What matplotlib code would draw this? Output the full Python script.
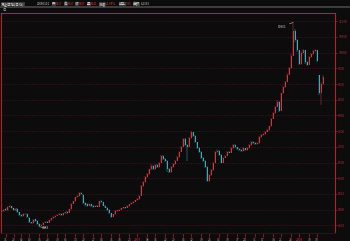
import numpy as np
import matplotlib
matplotlib.use('Agg')
from matplotlib import pyplot as plt
from matplotlib.patches import Rectangle

plt.rcParams['font.family'] = ['Noto Sans CJK SC', 'DejaVu Sans']

# дневные свечи
opens = [4930, 4950, 5010, 4990, 5080, 5110, 5040, 4990, 5020, 4910,
         4830, 4800, 4850, 4860, 4750, 4600, 4570, 4690, 4640, 4540,
         4490, 4520, 4580, 4620, 4590, 4660, 4720, 4770, 4810, 4840,
         4860, 4830, 4880, 4920, 4900, 5010, 5190, 5260, 5400, 5420,
         5540, 5480, 5200, 5170, 5130, 5170, 5110, 5090, 5130, 5100,
         5270, 5230, 5130, 5060, 4990, 4880, 4780, 4850, 4970, 4970,
         5000, 5040, 5080, 5060, 5120, 5170, 5200, 5250, 5300, 5330,
         5450, 5760, 5880, 6050, 6130, 6280, 6400, 6300, 6420, 6350,
         6500, 6700, 6620, 6550, 6300, 6200, 6350, 6450, 6560, 6670,
         6850, 7000, 7250, 7050, 7000, 7280, 7460, 7350, 7150, 6950,
         6850, 6650, 6550, 6350, 5900, 6100, 6250, 6500, 6850, 6880,
         6750, 6500, 6650, 6720, 6850, 6820, 6950, 7060, 6980, 6920,
         6900, 6870, 6950, 6900, 6960, 7050, 7160, 7120, 7080, 7110,
         7300, 7380, 7400, 7480, 7540, 7650, 7900, 8070, 8280, 8440,
         8150, 8700, 8900, 9080, 9300, 9500, 9900, 10700, 10400, 10080,
         9650, 10000, 10080, 9700, 9620, 9870, 9950, 10050, 10080, 9290,
         8720, 9000]
closes = [4960, 5000, 4980, 5090, 5120, 5040, 4990, 5030, 4920, 4830,
          4800, 4850, 4870, 4760, 4600, 4560, 4680, 4650, 4540, 4490,
          4520, 4580, 4610, 4590, 4660, 4720, 4770, 4800, 4840, 4860,
          4830, 4880, 4910, 4900, 5010, 5180, 5260, 5390, 5420, 5530,
          5500, 5200, 5160, 5130, 5170, 5110, 5090, 5120, 5100, 5260,
          5230, 5130, 5060, 5000, 4880, 4780, 4850, 4960, 4970, 5000,
          5040, 5070, 5060, 5120, 5170, 5200, 5250, 5300, 5330, 5450,
          5750, 5880, 6050, 6130, 6280, 6400, 6300, 6420, 6350, 6500,
          6700, 6620, 6560, 6300, 6200, 6350, 6450, 6560, 6670, 6850,
          7000, 7250, 7050, 7000, 7280, 7460, 7350, 7150, 6950, 6850,
          6650, 6550, 6350, 5900, 6100, 6250, 6500, 6850, 6880, 6750,
          6500, 6650, 6720, 6850, 6820, 6950, 7060, 6980, 6920, 6900,
          6870, 6950, 6900, 6960, 7050, 7160, 7120, 7080, 7110, 7300,
          7380, 7400, 7480, 7540, 7650, 7900, 8070, 8280, 8440, 8150,
          8700, 8900, 9080, 9300, 9500, 9900, 10700, 10400, 10080, 9650,
          10000, 10080, 9700, 9620, 9870, 9950, 10050, 10080, 9720, 8720,
          9000, 9230]
highs = [4990, 5030, 5040, 5110, 5150, 5130, 5060, 5060, 5040, 4930,
         4850, 4880, 4900, 4880, 4770, 4620, 4700, 4710, 4660, 4560,
         4550, 4600, 4640, 4650, 4680, 4740, 4790, 4830, 4860, 4890,
         4880, 4900, 4940, 4950, 5030, 5200, 5290, 5410, 5460, 5550,
         5560, 5500, 5230, 5200, 5200, 5190, 5140, 5150, 5160, 5290,
         5300, 5250, 5150, 5080, 5010, 4900, 4870, 4980, 5000, 5030,
         5060, 5100, 5100, 5140, 5190, 5230, 5270, 5320, 5360, 5480,
         5780, 5910, 6080, 6170, 6310, 6440, 6430, 6450, 6450, 6530,
         6730, 6740, 6650, 6570, 6330, 6380, 6480, 6590, 6700, 6880,
         7040, 7280, 7270, 7100, 7310, 7490, 7480, 7370, 7170, 6980,
         6870, 6680, 6570, 6380, 6130, 6280, 6530, 6880, 6920, 6900,
         6770, 6680, 6750, 6880, 6880, 6980, 7090, 7080, 7000, 6950,
         6930, 6980, 6970, 6990, 7080, 7190, 7190, 7150, 7140, 7330,
         7410, 7440, 7510, 7570, 7680, 7930, 8100, 8310, 8480, 8460,
         8730, 8940, 9110, 9340, 9540, 9950, 10961, 10760, 10430, 10100,
         10040, 10120, 10100, 9730, 9900, 9990, 10090, 10130, 10100, 9300,
         9050, 9290]
lows = [4910, 4940, 4960, 4970, 5060, 5020, 4960, 4970, 4900, 4800,
        4770, 4780, 4830, 4740, 4570, 4530, 4550, 4620, 4500, 4453,
        4470, 4500, 4560, 4570, 4570, 4640, 4700, 4750, 4790, 4820,
        4800, 4810, 4860, 4870, 4880, 4990, 5170, 5240, 5370, 5400,
        5460, 5180, 5130, 5100, 5110, 5080, 5060, 5070, 5080, 5080,
        5200, 5110, 5040, 4970, 4850, 4750, 4760, 4830, 4940, 4950,
        4980, 5020, 5030, 5040, 5100, 5150, 5180, 5230, 5280, 5310,
        5430, 5730, 5860, 6020, 6100, 6250, 6260, 6270, 6320, 6330,
        6480, 6590, 6530, 6200, 6160, 6180, 6320, 6430, 6540, 6650,
        6830, 6980, 7020, 6560, 6980, 7250, 7320, 7120, 6920, 6820,
        6620, 6520, 6320, 5870, 5880, 6080, 6230, 6480, 6820, 6720,
        6480, 6480, 6630, 6700, 6790, 6800, 6930, 6950, 6890, 6870,
        6840, 6850, 6870, 6880, 6940, 7030, 7090, 7050, 7060, 7090,
        7280, 7350, 7380, 7460, 7520, 7630, 7880, 8050, 8260, 8100,
        8130, 8680, 8880, 9060, 9280, 9480, 9880, 10350, 10030, 9600,
        9620, 9960, 9650, 9580, 9600, 9840, 9920, 10020, 9690, 8650,
        8330, 8970]

price_ticks = [4500, 5000, 5500, 6000, 6500, 7000, 7500, 8000, 8500,
               9000, 9500, 10000, 10500, 11000]
date_idx = [2, 6, 10, 14, 19, 23, 28, 32, 37, 41, 46, 50, 55, 59, 64, 68,
            73, 77, 82, 86, 91, 95, 100, 104, 109, 113, 118, 122, 127, 131,
            136, 140, 145, 149, 154, 158]
date_lbl = ['11', '29', '02', '09', '16', '23', '30', '06', '13', '20',
            '27', '04', '11', '18', '25', '2007', '08', '15', '22', '29',
            '05', '12', '19', '26', '03', '10', '17', '24', '31', '07',
            '14', '21', '28', '2008', '10', '18']
red_dates = ['2007', '2008']

header = [(1, '深证成指(日线)', '#d8d8d8', True),
          (37, '20080101', '#d8d8d8', False),
          (52, '开', '#c8c8c8', True), (56, '5127', '#e03434', False),
          (64, '高', '#c8c8c8', True), (68, '5627', '#e03434', False),
          (75, '收', '#c8c8c8', True), (79, '5587', '#e03434', False),
          (87, '量', '#c8c8c8', True), (91, '6941', '#e03434', False),
          (99, '涨幅', '#c8c8c8', True), (106, '+2.08%', '#e03434', False),
          (119, '换手', '#c8c8c8', True), (126, '0.35', '#e03434', False),
          (133, '金额', '#c8c8c8', True), (141, '6.2333', '#d8d8d8', False)]

BG = '#0c0c0c'
FRAME = '#b4202e'
UP = '#c83a40'
DOWN = '#3aaabc'

o = np.array(opens)
c = np.array(closes)
h = np.array(highs)
l = np.array(lows)
x = np.arange(len(c))
up = c >= o

fig = plt.figure(figsize=(3.5, 2.41), dpi=100)
fig.patch.set_facecolor(BG)

# шапка, координаты в пикселях
hd = fig.add_axes([0, 0, 1, 1])
hd.set_xlim(0, 350)
hd.set_ylim(241, 0)
hd.axis('off')
hd.add_patch(Rectangle((0, 0.6), 350, 0.8, color='#8a1020', lw=0))
hd.add_patch(Rectangle((0, 6.3), 350, 1.2, color='#3c3c3c', lw=0))
for px, txt, col, boxed in header:
    fs = 2.5 if any(ord(ch) > 255 for ch in txt) else 2.1
    bb = dict(facecolor='#3a3a3a', edgecolor='none', pad=0.1) if boxed else None
    hd.text(px, 4.0, txt, color=col, fontsize=fs, va='center', ha='left',
            bbox=bb)
hd.text(2, 10.3, '日', color='#b0b0b0', fontsize=2.4, va='center', ha='left')

ax = fig.add_axes([0.0015, 0.0332, 0.9556, 0.911])
ax.set_facecolor(BG)

for p in price_ticks:
    ax.axhline(p, color='#521220', lw=0.5, ls=(0, (2, 2)), zorder=0)

body_lo = np.minimum(o, c)
body_h = np.maximum(np.abs(c - o), 10)
ax.vlines(x[up], l[up], h[up], color=UP, lw=0.35, zorder=2)
ax.vlines(x[~up], l[~up], h[~up], color=DOWN, lw=0.35, zorder=2)
ax.bar(x[up], body_h[up], bottom=body_lo[up], width=0.5, color=UP,
       linewidth=0, zorder=3)
ax.bar(x[~up], body_h[~up], bottom=body_lo[~up], width=0.5, color=DOWN,
       linewidth=0, zorder=3)

# максимум и минимум
imax = int(np.argmax(h))
imin = int(np.argmin(l))
ax.annotate(str(h[imax]), xy=(imax, h[imax]), xytext=(-4.5, -3),
            textcoords='offset points', color='#d0d0d0', fontsize=2.3,
            ha='right', va='center',
            arrowprops=dict(arrowstyle='-', color='#c0c0c0', lw=0.4,
                            shrinkA=0, shrinkB=0))
ax.annotate(str(l[imin]), xy=(imin, l[imin]), xytext=(2, -0.5),
            textcoords='offset points', color='#d0d0d0', fontsize=2.3,
            ha='left', va='center',
            arrowprops=dict(arrowstyle='-', color='#c0c0c0', lw=0.4,
                            shrinkA=0, shrinkB=0))

ax.set_xlim(-0.5, 167)
ax.set_ylim(4257, 11248)

ax.yaxis.tick_right()
ax.set_yticks(price_ticks)
ax.set_yticklabels([str(p) for p in price_ticks])
ax.tick_params(axis='y', colors=FRAME, labelcolor='#b02a3a', labelsize=2.4,
               length=1.2, width=0.4, pad=1.2)

ax.set_xticks(date_idx)
ax.set_xticklabels(date_lbl)
ax.tick_params(axis='x', color=FRAME, labelcolor='#9a9a9a', labelsize=2.4,
               length=3, width=0.5, pad=0.8)
for t in ax.get_xticklabels():
    if t.get_text() in red_dates:
        t.set_color('#d03040')

for s in ax.spines.values():
    s.set_color(FRAME)
    s.set_linewidth(0.8)
ax.spines['bottom'].set_color('#3a0c12')

fig.savefig('out.png', dpi=100, facecolor=BG)
